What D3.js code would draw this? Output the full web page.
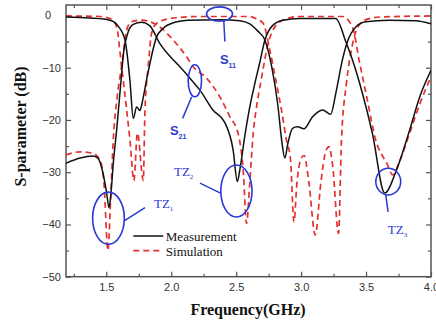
<!DOCTYPE html>
<html>
<head>
<meta charset="utf-8">
<script src="https://cdn.jsdelivr.net/npm/d3@7"></script>
<style>
  html, body { margin: 0; padding: 0; background: #fff; }
  svg { display: block; }
  .axis path, .axis line { stroke: #555; }
  .axis text { font-family: Arial, "Liberation Sans", sans-serif; font-size: 11px; fill: #333; }
</style>
</head>
<body>
<div id="chart"></div>
<script>
// measured S21 (black)
const measS21Freq = [1.19, 1.298, 1.398, 1.436, 1.475, 1.503, 1.521, 1.534, 1.554, 1.58, 1.605, 1.636, 1.669, 1.708, 1.772, 1.836, 1.913, 2.015, 2.067, 2.144, 2.221, 2.321, 2.413, 2.477, 2.509, 2.528, 2.567, 2.605, 2.644, 2.682, 2.721, 2.782, 2.859, 2.99, 3.267, 3.344, 3.395, 3.472, 3.549, 3.644, 3.734, 3.836, 3.913, 4.0];
const measS21 = [-28.3, -27.3, -26.9, -27.3, -30.2, -34, -36.8, -34.7, -28.3, -21.9, -14.9, -6.6, -3.1, -1.7, -1.3, -2.0, -5.4, -8.5, -9.8, -12, -14.3, -18.1, -20.5, -25.8, -31.8, -29.6, -23, -17.5, -13, -9, -4.7, -1.9, -0.9, -0.6, -0.6, -5, -8.5, -14.9, -22.6, -34, -29.6, -21.9, -15.6, -10.5];

// measured S11 (black)
const measS11Freq = [1.19, 1.375, 1.528, 1.59, 1.644, 1.682, 1.708, 1.734, 1.759, 1.772, 1.79, 1.821, 1.888, 1.936, 2.028, 2.128, 2.375, 2.528, 2.605, 2.667, 2.721, 2.775, 2.82, 2.851, 2.875, 2.898, 2.934, 2.973, 3.021, 3.088, 3.165, 3.228, 3.267, 3.318, 3.357, 3.421, 3.498, 3.675, 3.882, 4.0];
const measS11 = [-0.3, -0.5, -0.9, -2.0, -4.7, -12.4, -19.7, -17.5, -18.2, -17.2, -15, -11, -4.1, -2.5, -1.3, -0.9, -0.8, -1.0, -1.6, -3.0, -4.7, -10, -17, -24, -27.3, -24.5, -21.6, -21.3, -21.7, -19.4, -18.1, -18.9, -14.9, -8.5, -5, -2.2, -1.2, -0.9, -1.0, -1.6];

// simulated S21 (red dashed)
const simS21Freq = [1.19, 1.298, 1.4, 1.452, 1.482, 1.513, 1.532, 1.554, 1.582, 1.618, 1.657, 1.695, 1.772, 1.836, 1.913, 2.015, 2.118, 2.169, 2.272, 2.375, 2.452, 2.515, 2.554, 2.58, 2.605, 2.631, 2.657, 2.695, 2.746, 2.797, 2.861, 2.99, 3.318, 3.395, 3.446, 3.51, 3.574, 3.66, 3.706, 3.757, 3.836, 3.913, 4.0];
const simS21 = [-26.7, -26.1, -26.4, -27.7, -32, -45, -36, -23.8, -16, -9.8, -2.8, -1.2, -0.9, -1.2, -2.2, -4.7, -7.9, -9.8, -12, -15.6, -19.4, -22.6, -29.6, -39.8, -32, -22.6, -17.5, -12, -5.4, -2.2, -0.9, -0.2, -0.2, -2.2, -8.5, -16.2, -23.8, -28.3, -30.5, -28, -22.5, -17, -11.7];

// simulated S11 (red dashed)
const simS11Freq = [1.19, 1.452, 1.528, 1.552, 1.58, 1.618, 1.657, 1.682, 1.713, 1.74, 1.785, 1.798, 1.823, 1.849, 1.888, 1.99, 2.22, 2.605, 2.667, 2.708, 2.759, 2.81, 2.849, 2.887, 2.918, 2.945, 2.968, 2.998, 3.023, 3.06, 3.109, 3.152, 3.19, 3.215, 3.244, 3.288, 3.311, 3.349, 3.387, 3.426, 3.49, 3.605, 4.0];
const simS11 = [-0.1, -0.2, -0.6, -1.0, -2.2, -9.8, -18.1, -23.8, -31.6, -22.5, -31.6, -18.1, -9.8, -3.4, -1.5, -0.6, -0.2, -0.2, -0.8, -1.5, -6.6, -13, -18.1, -23.8, -27.5, -39.5, -32, -27.5, -26.8, -32, -42, -32, -26, -25.1, -29, -41.7, -23.8, -13, -6.6, -2.8, -0.9, -0.3, -0.1];

const xTicks = [1.5, 2.0, 2.5, 3.0, 3.5, 4.0];
const xMinor = [1.25, 1.75, 2.25, 2.75, 3.25, 3.75];
const yTicks = [0, -10, -20, -30, -40, -50];
const yMinor = [-5, -15, -25, -35, -45];

const legendLabels = ["Measurement", "Simulation"];

// blue annotations (ellipse centre / size in data units, pointer line, label)
const ellipses = [
    { f: 1.517, db: -38.8, rf: 0.122, rdb: 4.98 },
    { f: 2.502, db: -33.6, rf: 0.12, rdb: 4.98 },
    { f: 3.671, db: -31.8, rf: 0.096, rdb: 2.55 },
    { f: 2.182, db: -12.5, rf: 0.0515, rdb: 3.06 },
    { f: 2.372, db: 0.27, rf: 0.1, rdb: 1.38 }
];
const pointers = [
    [1.638, -39.3, 1.798, -36.8],
    [2.38, -34.0, 2.221, -32.1],
    [3.652, -34.4, 3.67, -37.6],
    [2.157, -15.6, 2.088, -19.7],
    [2.405, -1.06, 2.413, -5.0]
];
const tzLabels = [
    { f: 1.867, db: -36.9, main: "TZ", sub: "1" },
    { f: 2.021, db: -30.7, main: "TZ", sub: "2" },
    { f: 3.667, db: -41.8, main: "TZ", sub: "3" }
];
const sLabels = [
    { f: 1.99, db: -22.9, main: "S", sub: "21" },
    { f: 2.375, db: -9.35, main: "S", sub: "11" }
];

const W = 436, H = 327;
const margin = { top: 5, right: 5, bottom: 50.3, left: 66 };
const width = W - margin.left - margin.right;
const height = H - margin.top - margin.bottom;
const blue = "#2b39d6";

const svg = d3.select("#chart").append("svg")
    .attr("width", W)
    .attr("height", H);

const g = svg.append("g")
    .attr("transform", `translate(${margin.left},${margin.top})`);

const x = d3.scaleLinear().domain([1.19, 4.0]).range([0, width]);
const y = d3.scaleLinear().domain([-50, 2]).range([height, 0]);

g.append("clipPath").attr("id", "clip")
    .append("rect").attr("width", width).attr("height", height);

// axes with inward ticks
const xAxisG = g.append("g").attr("class", "axis").attr("transform", `translate(0,${height})`)
    .call(d3.axisBottom(x).tickValues(xTicks).tickFormat(d3.format(".1f")).tickSizeInner(-5).tickSizeOuter(0).tickPadding(6.5));
g.append("g").attr("class", "axis").attr("transform", `translate(0,${height})`)
    .call(d3.axisBottom(x).tickValues(xMinor).tickFormat("").tickSizeInner(-3).tickSizeOuter(0));
g.append("g").attr("class", "axis")
    .call(d3.axisTop(x).tickValues(xTicks).tickFormat("").tickSizeInner(-5).tickSizeOuter(0));
g.append("g").attr("class", "axis")
    .call(d3.axisTop(x).tickValues(xMinor).tickFormat("").tickSizeInner(-3).tickSizeOuter(0));

const yAxisG = g.append("g").attr("class", "axis")
    .call(d3.axisLeft(y).tickValues(yTicks).tickFormat(d3.format("d")).tickSizeInner(-5).tickSizeOuter(0).tickPadding(5));
g.append("g").attr("class", "axis")
    .call(d3.axisLeft(y).tickValues(yMinor).tickFormat("").tickSizeInner(-3).tickSizeOuter(0));
g.append("g").attr("class", "axis").attr("transform", `translate(${width},0)`)
    .call(d3.axisRight(y).tickValues(yTicks).tickFormat("").tickSizeInner(-5).tickSizeOuter(0));
g.append("g").attr("class", "axis").attr("transform", `translate(${width},0)`)
    .call(d3.axisRight(y).tickValues(yMinor).tickFormat("").tickSizeInner(-3).tickSizeOuter(0));

g.selectAll(".axis path").remove();
g.selectAll(".axis line").attr("stroke-width", 1.2);
yAxisG.selectAll(".tick text").filter(d => d === 0).attr("dx", -10);

// frame
g.append("rect")
    .attr("width", width).attr("height", height)
    .attr("fill", "none").attr("stroke", "#555").attr("stroke-width", 1.5);

// curves
const line = d3.line()
    .x(d => x(d[0]))
    .y(d => y(d[1]))
    .curve(d3.curveMonotoneX);

const series = [
    { f: simS21Freq, v: simS21, color: "#e53030", dash: "6,4" },
    { f: simS11Freq, v: simS11, color: "#e53030", dash: "6,4" },
    { f: measS21Freq, v: measS21, color: "#111", dash: null },
    { f: measS11Freq, v: measS11, color: "#111", dash: null }
];

g.append("g").attr("clip-path", "url(#clip)")
    .selectAll("path")
    .data(series)
    .join("path")
    .attr("d", s => line(d3.zip(s.f, s.v)))
    .attr("fill", "none")
    .attr("stroke", s => s.color)
    .attr("stroke-width", s => s.dash ? 1.7 : 1.5)
    .attr("stroke-dasharray", s => s.dash);

// blue annotations
const ann = g.append("g");
ann.selectAll("ellipse")
    .data(ellipses)
    .join("ellipse")
    .attr("cx", d => x(d.f))
    .attr("cy", d => y(d.db))
    .attr("rx", d => x(d.f + d.rf) - x(d.f))
    .attr("ry", d => y(d.db - d.rdb) - y(d.db))
    .attr("fill", "none")
    .attr("stroke", blue)
    .attr("stroke-width", 1.6);

ann.selectAll("line")
    .data(pointers)
    .join("line")
    .attr("x1", d => x(d[0])).attr("y1", d => y(d[1]))
    .attr("x2", d => x(d[2])).attr("y2", d => y(d[3]))
    .attr("stroke", blue)
    .attr("stroke-width", 1.5);

const tz = ann.selectAll("text.tz")
    .data(tzLabels)
    .join("text")
    .attr("class", "tz")
    .attr("x", d => x(d.f))
    .attr("y", d => y(d.db))
    .attr("fill", blue)
    .style("font-family", "'Times New Roman', 'Liberation Serif', serif")
    .style("font-size", "13px");
tz.append("tspan").text(d => d.main);
tz.append("tspan").attr("dy", 3).style("font-size", "7px").text(d => d.sub);

const sl = ann.selectAll("text.sl")
    .data(sLabels)
    .join("text")
    .attr("class", "sl")
    .attr("x", d => x(d.f))
    .attr("y", d => y(d.db))
    .attr("fill", blue)
    .style("font-family", "Arial, 'Liberation Sans', sans-serif")
    .style("font-weight", "bold")
    .style("font-size", "13px");
sl.append("tspan").text(d => d.main);
sl.append("tspan").attr("dy", 4).style("font-size", "7px").text(d => d.sub);

// legend
const legend = g.append("g").attr("transform", `translate(${133.3 - margin.left},${236 - margin.top})`);
legend.selectAll("line")
    .data(series.filter((s, i) => i === 2 || i === 0).reverse())
    .join("line")
    .attr("x1", 0).attr("x2", 30)
    .attr("y1", (d, i) => i * 14.7).attr("y2", (d, i) => i * 14.7)
    .attr("stroke", d => d.color)
    .attr("stroke-width", d => d.dash ? 1.7 : 1.5)
    .attr("stroke-dasharray", d => d.dash);
legend.selectAll("text")
    .data(legendLabels)
    .join("text")
    .attr("x", 32.5)
    .attr("y", (d, i) => i * 14.7 + 5)
    .style("font-family", "'Times New Roman', 'Liberation Serif', serif")
    .style("font-size", "13px")
    .attr("fill", "#111")
    .text(d => d);

// axis titles
svg.append("text")
    .attr("x", margin.left + width / 2 - 0.5)
    .attr("y", 314.5)
    .attr("text-anchor", "middle")
    .style("font-family", "'Times New Roman', 'Liberation Serif', serif")
    .style("font-weight", "bold")
    .style("font-size", "16px")
    .attr("fill", "#111")
    .text("Frequency(GHz)");

svg.append("text")
    .attr("transform", `translate(25.5,${margin.top + 121.5}) rotate(-90)`)
    .attr("text-anchor", "middle")
    .style("font-family", "'Times New Roman', 'Liberation Serif', serif")
    .style("font-weight", "bold")
    .style("font-size", "16px")
    .attr("fill", "#111")
    .text("S-parameter (dB)");
</script>
</body>
</html>
